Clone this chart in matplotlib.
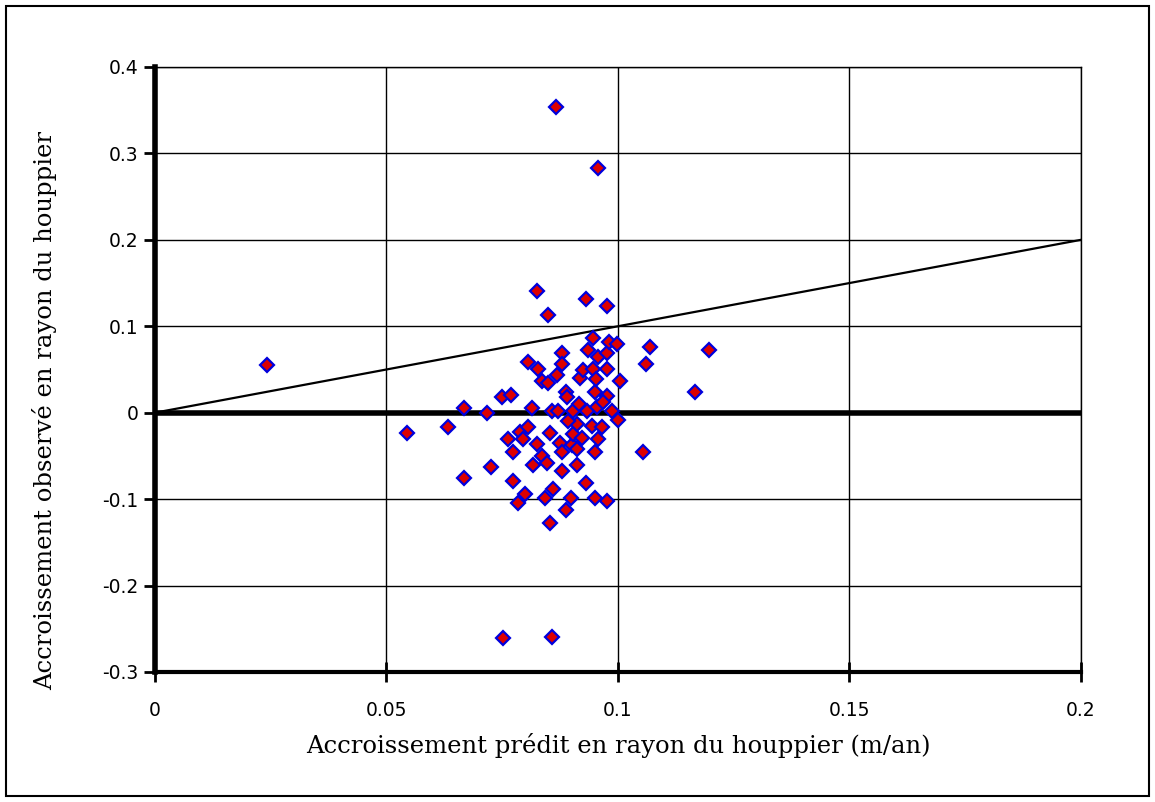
import matplotlib
matplotlib.use("Agg")
from matplotlib import pyplot as plt
import matplotlib.ticker as mticker
from matplotlib.patches import Rectangle

pred = [0.0242, 0.0544, 0.0633, 0.0667, 0.0667, 0.0717, 0.0726, 0.0750, 0.0752, 0.0762,
        0.0770, 0.0773, 0.0773, 0.0784, 0.0788, 0.0795, 0.0799, 0.0805, 0.0806, 0.0814,
        0.0816, 0.0825, 0.0825, 0.0827, 0.0836, 0.0836, 0.0842, 0.0847, 0.0849, 0.0849,
        0.0853, 0.0853, 0.0857, 0.0857, 0.0860, 0.0866, 0.0868, 0.0870, 0.0875, 0.0879,
        0.0880, 0.0880, 0.0880, 0.0888, 0.0888, 0.0890, 0.0898, 0.0900, 0.0903, 0.0903,
        0.0911, 0.0911, 0.0911, 0.0918, 0.0922, 0.0924, 0.0930, 0.0931, 0.0933, 0.0935,
        0.0944, 0.0946, 0.0946, 0.0950, 0.0950, 0.0950, 0.0952, 0.0955, 0.0957, 0.0957,
        0.0957, 0.0965, 0.0976, 0.0976, 0.0976, 0.0976, 0.0976, 0.0980, 0.0987, 0.0998,
        0.1000, 0.1004, 0.1054, 0.1060, 0.1070, 0.1166, 0.1197, 0.0893, 0.0915, 0.0968]
obs = [0.0555, -0.023, -0.016, 0.006, -0.076, 0.000, -0.063, 0.018, -0.261, -0.031,
       0.021, -0.045, -0.079, -0.105, -0.022, -0.030, -0.094, 0.059, -0.017, 0.006,
       -0.060, 0.141, -0.036, 0.051, 0.037, -0.050, -0.099, -0.058, 0.113, 0.034,
       -0.023, -0.128, 0.002, -0.259, -0.088, 0.354, 0.044, 0.002, -0.035, -0.068,
       0.069, 0.056, -0.045, 0.024, -0.113, 0.018, -0.099, -0.037, 0.002, -0.025,
       -0.013, -0.042, -0.060, 0.040, -0.029, 0.049, 0.132, -0.081, 0.002, 0.072,
       -0.015, 0.087, 0.051, 0.024, -0.045, -0.099, 0.039, 0.007, 0.283, 0.064,
       -0.031, -0.016, 0.124, 0.069, 0.050, 0.019, -0.102, 0.082, 0.002, 0.079,
       -0.008, 0.037, -0.045, 0.056, 0.076, 0.024, 0.072, -0.010, 0.010, 0.012]

xticks = [0, 0.05, 0.1, 0.15, 0.2]
yticks = [-0.3, -0.2, -0.1, 0, 0.1, 0.2, 0.3, 0.4]

fig = plt.figure(figsize=(11.55, 8.02), dpi=100)
fig.patches.append(Rectangle((0.005, 0.008), 0.99, 0.985, transform=fig.transFigure,
                             fill=False, edgecolor="black", linewidth=1.5))
ax = fig.add_axes([0.1342, 0.1621, 0.8017, 0.7544])

ax.set_xlim(0, 0.2)
ax.set_ylim(-0.3, 0.4)
ax.set_xticks(xticks)
ax.set_yticks(yticks)
ax.xaxis.set_major_formatter(mticker.FormatStrFormatter("%g"))
ax.yaxis.set_major_formatter(mticker.FormatStrFormatter("%g"))
ax.grid(True, color="black", linewidth=1.0)
ax.set_axisbelow(True)

for s in ["top", "right"]:
    ax.spines[s].set_linewidth(1.0)
ax.spines["left"].set_linewidth(4)
ax.spines["bottom"].set_linewidth(3)

ax.axhline(0, color="black", linewidth=4, zorder=2)
ax.plot([0, 0.2], [0, 0.2], color="black", linewidth=1.6, zorder=2)
ax.plot(pred, obs, linestyle="none", marker="D", markersize=7.5,
        markerfacecolor="#dd0000", markeredgecolor="#0000dd", markeredgewidth=1.6, zorder=3)

ax.tick_params(axis="y", direction="out", length=8, width=2, pad=4, labelsize=13.5)
ax.tick_params(axis="x", direction="inout", length=14, width=2, pad=14, labelsize=13.5)
for lab in ax.get_xticklabels() + ax.get_yticklabels():
    lab.set_family("DejaVu Sans")

ax.set_xlabel("Accroissement prédit en rayon du houppier (m/an)", fontsize=17.5,
              family="DejaVu Serif", labelpad=9)
ax.set_ylabel("Accroissement observé en rayon du houppier", fontsize=17.5,
              family="DejaVu Serif")
ax.yaxis.set_label_coords(-0.106, 0.433)

fig.savefig("out.png", dpi=100)
